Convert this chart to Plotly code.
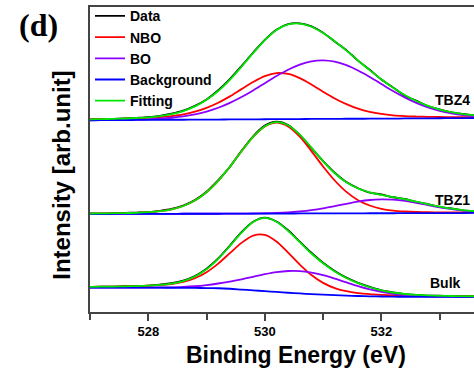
import numpy as np
import plotly.graph_objects as go

# ---------------- data ----------------
energy = [527.0, 527.2, 527.4, 527.6, 527.8, 528.0, 528.2, 528.4, 528.6, 528.8,
          529.0, 529.2, 529.4, 529.6, 529.8, 530.0, 530.2, 530.4, 530.6, 530.8,
          531.0, 531.2, 531.4, 531.6, 531.8, 532.0, 532.2, 532.4, 532.6, 532.8,
          533.0, 533.2, 533.4, 533.6]

data_tbz4 = [193.9, 194.3, 194.4, 194.8, 195.4, 196.1, 197.5, 199.6, 202.6, 207.5,
             214.0, 223.2, 234.5, 247.6, 261.2, 274.0, 284.2, 289.8, 290.6, 287.5,
             281.1, 272.2, 263.6, 253.0, 243.8, 234.0, 226.1, 218.0, 212.7, 207.2,
             204.0, 201.0, 199.3, 197.8]
data_tbz1 = [99.3, 99.1, 99.5, 99.7, 100.1, 100.6, 101.8, 103.7, 107.2, 112.8,
             121.2, 132.8, 146.0, 162.3, 176.9, 187.6, 191.6, 188.2, 178.2, 165.0,
             151.9, 140.2, 130.8, 124.6, 120.2, 118.3, 115.5, 113.8, 110.8, 108.6,
             105.8, 104.3, 102.4, 101.7]
data_bulk = [25.2, 25.6, 25.5, 25.9, 26.2, 26.6, 27.6, 29.0, 31.6, 36.2,
             43.6, 53.9, 66.9, 80.4, 90.8, 95.0, 91.1, 82.3, 70.8, 59.6,
             49.5, 41.3, 34.6, 29.3, 25.2, 21.8, 19.8, 18.0, 17.3, 16.5,
             16.4, 16.0, 16.1, 15.9]

bg_tbz4 = [193.0, 193.1, 193.1, 193.2, 193.3, 193.3, 193.4, 193.5, 193.5, 193.6,
           193.7, 193.7, 193.8, 193.9, 193.9, 194.0, 194.1, 194.1, 194.2, 194.3,
           194.3, 194.4, 194.5, 194.5, 194.6, 194.7, 194.7, 194.8, 194.9, 194.9,
           195.0, 195.1, 195.1, 195.2]
bg_tbz1 = [98.6, 98.6, 98.7, 98.7, 98.7, 98.8, 98.8, 98.8, 98.9, 98.9,
           98.9, 98.9, 99.0, 99.0, 99.0, 99.1, 99.1, 99.1, 99.2, 99.2,
           99.2, 99.3, 99.3, 99.3, 99.4, 99.4, 99.4, 99.5, 99.5, 99.5,
           99.6, 99.6, 99.6, 99.7]
bg_bulk = [24.5, 24.5, 24.5, 24.5, 24.5, 24.5, 24.45, 24.4, 24.3, 24.2,
           24.1, 23.9, 23.4, 22.6, 21.8, 21.0, 20.2, 19.4, 18.7, 18.0,
           17.4, 16.9, 16.45, 16.1, 15.8, 15.6, 15.4, 15.3, 15.3, 15.3,
           15.3, 15.3, 15.3, 15.3]

# fitted peak parameters: centre (eV), height, HWHM (eV), Lorentz fraction
nbo_params = {"TBZ4": (530.26, 46.5, 0.86, 0.3), "TBZ1": (530.20, 91.5, 0.82, 0.1), "Bulk": (529.94, 57.0, 0.67, 0.3)}
bo_params = {"TBZ4": (530.98, 59.0, 1.17, 0.0), "TBZ1": (532.03, 14.0, 0.86, 0.0), "Bulk": (530.59, 22.5, 0.93, 0.0)}

sample_names = ["TBZ4", "TBZ1", "Bulk"]
series_names = ["Data", "NBO", "BO", "Background", "Fitting"]
# label anchor (paper coords): right edge x, centre y
sample_label_pos = {"TBZ4": (0.996, 0.695), "TBZ1": (0.996, 0.367), "Bulk": (0.972, 0.094)}

# ---------------- styling ----------------
colors = {"Data": "#000000", "NBO": "#ff0000", "BO": "#8a00ff",
          "Background": "#0000ff", "Fitting": "#00e600"}
LW = 1.8

def pv(e, c, h, w, eta):
    r2 = ((e - c) / w) ** 2
    return h * (eta / (1 + r2) + (1 - eta) * np.exp(-np.log(2) * r2))

E = np.array(energy)
spectra = {"TBZ4": (data_tbz4, bg_tbz4), "TBZ1": (data_tbz1, bg_tbz1), "Bulk": (data_bulk, bg_bulk)}

fig = go.Figure()
first = True
for name in sample_names:
    dat, bg = spectra[name]
    bg = np.array(bg)
    nbo = pv(E, *nbo_params[name])
    bo = pv(E, *bo_params[name])
    curves = {"Data": np.array(dat), "NBO": bg + nbo, "BO": bg + bo,
              "Background": bg, "Fitting": bg + nbo + bo}
    for lab in series_names:
        fig.add_trace(go.Scatter(
            x=energy, y=curves[lab], mode="lines", name=f"<b>{lab}</b>", legendgroup=lab,
            showlegend=first, line=dict(color=colors[lab], width=LW, shape="spline", smoothing=0.8),
        ))
    first = False

for name in sample_names:
    px_, py_ = sample_label_pos[name]
    fig.add_annotation(x=px_, y=py_, xref="paper", yref="paper", text=f"<b>{name}</b>",
                       showarrow=False, xanchor="right", yanchor="middle",
                       font=dict(family="Liberation Sans, Arial", size=14, color="black"))

fig.add_annotation(x=-0.135, y=0.94, xref="paper", yref="paper", text="<b>(d)</b>",
                   showarrow=False, xanchor="center", yanchor="middle",
                   font=dict(family="Liberation Serif, Times New Roman", size=32, color="black"))
fig.add_annotation(x=-0.073, y=0.45, xref="paper", yref="paper", text="<b>Intensity [arb.unit]</b>",
                   showarrow=False, textangle=-90, xanchor="center", yanchor="middle",
                   font=dict(family="Liberation Sans, Arial", size=24, color="black"))
fig.add_annotation(x=0.536, y=-0.142, xref="paper", yref="paper", text="<b>Binding Energy (eV)</b>",
                   showarrow=False, xanchor="center", yanchor="middle",
                   font=dict(family="Liberation Sans, Arial", size=23, color="black"))

fig.update_layout(
    width=474, height=369,
    margin=dict(l=90, r=0, t=5, b=57),
    paper_bgcolor="white", plot_bgcolor="white",
    showlegend=True,
    legend=dict(x=0.0, y=1.022, xanchor="left", yanchor="top", bgcolor="rgba(0,0,0,0)",
                font=dict(family="Liberation Sans, Arial", size=14, color="black"),
                tracegroupgap=0, itemwidth=30),
    font=dict(family="Liberation Sans, Arial", color="black"),
)
fig.update_xaxes(
    range=[527.0, 533.59], showgrid=False, zeroline=False,
    showline=True, linecolor="#444444", linewidth=1.5, mirror=True,
    ticks="outside", ticklen=7, tickwidth=1.5, tickcolor="#444444",
    tick0=528, dtick=2, tickfont=dict(family="Liberation Sans, Arial", size=13, color="black"),
    tickprefix="<b>", ticksuffix="</b>",
    minor=dict(ticks="outside", ticklen=6, tickwidth=1.5, tickcolor="#444444", dtick=1, tick0=527, showgrid=False),
)
fig.update_yaxes(
    range=[0, 307], showgrid=False, zeroline=False, showticklabels=False,
    showline=True, linecolor="#444444", linewidth=1.5, mirror=False, ticks="",
)

fig.write_html("out.html")
